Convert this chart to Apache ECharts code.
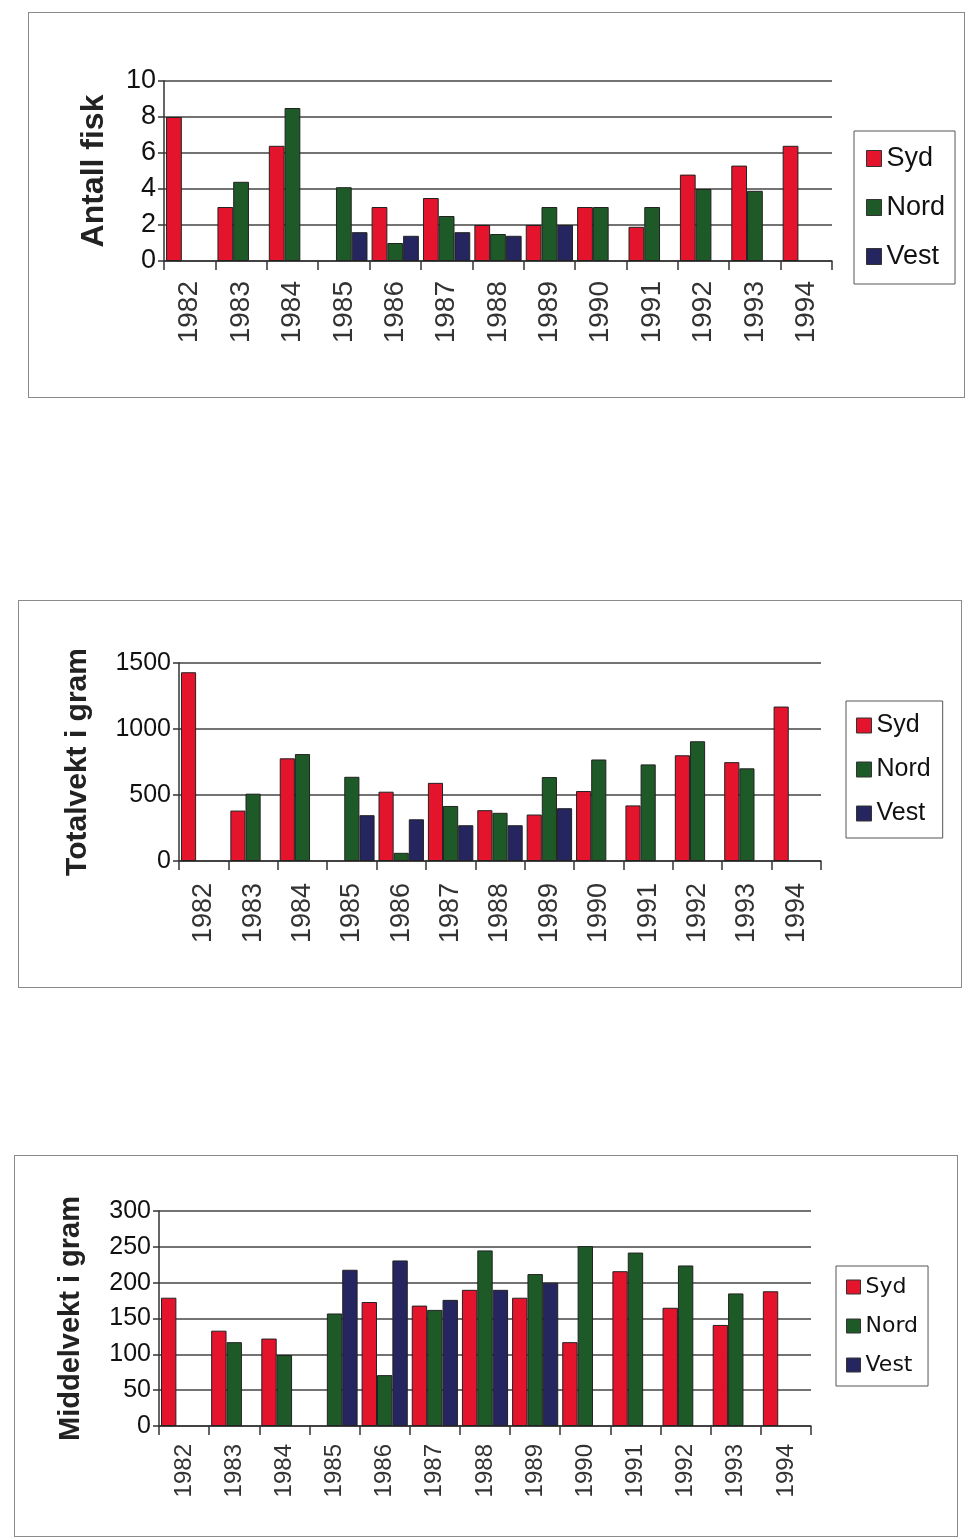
<!DOCTYPE html>
<html>
<head>
<meta charset="utf-8">
<script src="https://cdn.jsdelivr.net/npm/echarts@6/dist/echarts.min.js"></script>
<style>
  html, body { margin: 0; padding: 0; background: #ffffff; }
  body { width: 965px; height: 1537px; position: relative; overflow: hidden; }
  .box { position: absolute; border: 1.5px solid #8a8a8a; box-sizing: border-box; }
</style>
</head>
<body>
<div id="c1" class="box" style="left:28px; top:12px; width:937px; height:386px;"></div>
<div id="c2" class="box" style="left:18px; top:600px; width:944px; height:388px;"></div>
<div id="c3" class="box" style="left:14px; top:1155px; width:944px; height:382px;"></div>
<script>
// ---- data ----
const years = ['1982','1983','1984','1985','1986','1987','1988','1989','1990','1991','1992','1993','1994'];
const seriesNames = ['Syd','Nord','Vest'];

const antallSyd  = [8.0, 3.0, 6.4, null, 3.0, 3.5, 2.0, 2.0, 3.0, 1.9, 4.8, 5.3, 6.4];
const antallNord = [null, 4.4, 8.5, 4.1, 1.0, 2.5, 1.5, 3.0, 3.0, 3.0, 4.0, 3.9, null];
const antallVest = [null, null, null, 1.6, 1.4, 1.6, 1.4, 2.0, null, null, null, null, null];
const antallTicks = { min: 0, max: 10, interval: 2 };

const totalSyd  = [1430, 382, 778, null, 525, 592, 385, 352, 530, 421, 801, 749, 1170];
const totalNord = [null, 510, 810, 638, 62, 417, 365, 636, 769, 732, 907, 702, null];
const totalVest = [null, null, null, 347, 316, 271, 271, 400, null, null, null, null, null];
const totalTicks = { min: 0, max: 1500, interval: 500 };

const middelSyd  = [179, 133, 122, null, 173, 168, 190, 179, 117, 216, 165, 141, 188];
const middelNord = [null, 117, 99, 157, 71, 162, 245, 212, 251, 242, 224, 185, null];
const middelVest = [null, null, null, 218, 231, 176, 190, 200, null, null, null, null, null];
const middelTicks = { min: 0, max: 300, interval: 50 };

const colors = ['#e4142d', '#1e5a27', '#25265f'];

function build(el, cfg) {
  const chart = echarts.init(document.getElementById(el), null, { renderer: 'canvas' });
  const vals = [cfg.syd, cfg.nord, cfg.vest];
  chart.setOption({
    animation: false,
    backgroundColor: '#ffffff',
    grid: cfg.grid,
    legend: Object.assign({
      orient: 'vertical',
      data: seriesNames,
      icon: 'rect',
      borderColor: '#555',
      borderWidth: 1,
      itemStyle: { borderColor: '#333', borderWidth: 1 },
      textStyle: { color: '#111', fontFamily: cfg.legendFont, fontSize: cfg.legendSize }
    }, cfg.legend),
    xAxis: {
      type: 'category',
      data: years,
      boundaryGap: true,
      axisLine: { lineStyle: { color: '#333', width: 1.5 } },
      axisTick: { show: true, length: 9, lineStyle: { color: '#333', width: 1.5 } },
      axisLabel: {
        rotate: 90, interval: 0, margin: cfg.xMargin,
        fontFamily: 'Liberation Sans, Arial, sans-serif', fontSize: cfg.xSize, color: '#333'
      },
      splitLine: { show: false }
    },
    yAxis: {
      type: 'value',
      min: cfg.ticks.min, max: cfg.ticks.max, interval: cfg.ticks.interval,
      name: cfg.title,
      nameLocation: 'middle',
      nameRotate: 90,
      nameGap: cfg.nameGap,
      nameTextStyle: { fontFamily: 'Liberation Sans, Arial, sans-serif', fontSize: cfg.titleSize, fontWeight: 'bold', color: '#222' },
      axisLine: { show: true, lineStyle: { color: '#333', width: 1.5 } },
      axisTick: { show: true, length: 6, lineStyle: { color: '#333', width: 1.5 } },
      axisLabel: {
        margin: 8, fontFamily: 'Liberation Sans, Arial, sans-serif', fontSize: cfg.ySize, color: '#111',
        formatter: v => String(v)
      },
      splitLine: { show: true, lineStyle: { color: '#444', width: 1.5 } }
    },
    series: seriesNames.map((n, i) => ({
      name: n,
      type: 'bar',
      data: vals[i],
      barGap: '0%',
      barCategoryGap: '8%',
      itemStyle: { color: colors[i], borderColor: '#222', borderWidth: 1 }
    }))
  });
}

build('c1', {
  syd: antallSyd, nord: antallNord, vest: antallVest, ticks: antallTicks,
  title: 'Antall fisk', titleSize: 32, nameGap: 54,
  grid: { left: 135, top: 68, right: 132, bottom: 136 },
  legend: { left: 825, top: 118, padding: [14, 10, 14, 12], itemGap: 22, itemWidth: 15, itemHeight: 16 },
  legendFont: 'Liberation Sans, Arial, sans-serif', legendSize: 27,
  xSize: 28, xMargin: 20, ySize: 27
});

build('c2', {
  syd: totalSyd, nord: totalNord, vest: totalVest, ticks: totalTicks,
  title: 'Totalvekt i gram', titleSize: 30, nameGap: 86,
  grid: { left: 160, top: 62, right: 140, bottom: 126 },
  legend: { left: 827, top: 100, padding: [12, 12, 12, 10], itemGap: 19, itemWidth: 15, itemHeight: 15 },
  legendFont: 'Liberation Sans, Arial, sans-serif', legendSize: 25,
  xSize: 27, xMargin: 22, ySize: 25
});

build('c3', {
  syd: middelSyd, nord: middelNord, vest: middelVest, ticks: middelTicks,
  title: 'Middelvekt i gram', titleSize: 29, nameGap: 74,
  grid: { left: 144, top: 55, right: 146, bottom: 110 },
  legend: { left: 821, top: 110, padding: [10, 10, 10, 10], itemGap: 17, itemWidth: 14, itemHeight: 14 },
  legendFont: 'DejaVu Sans, Verdana, sans-serif', legendSize: 22,
  xSize: 24, xMargin: 18, ySize: 25
});
</script>
</body>
</html>
